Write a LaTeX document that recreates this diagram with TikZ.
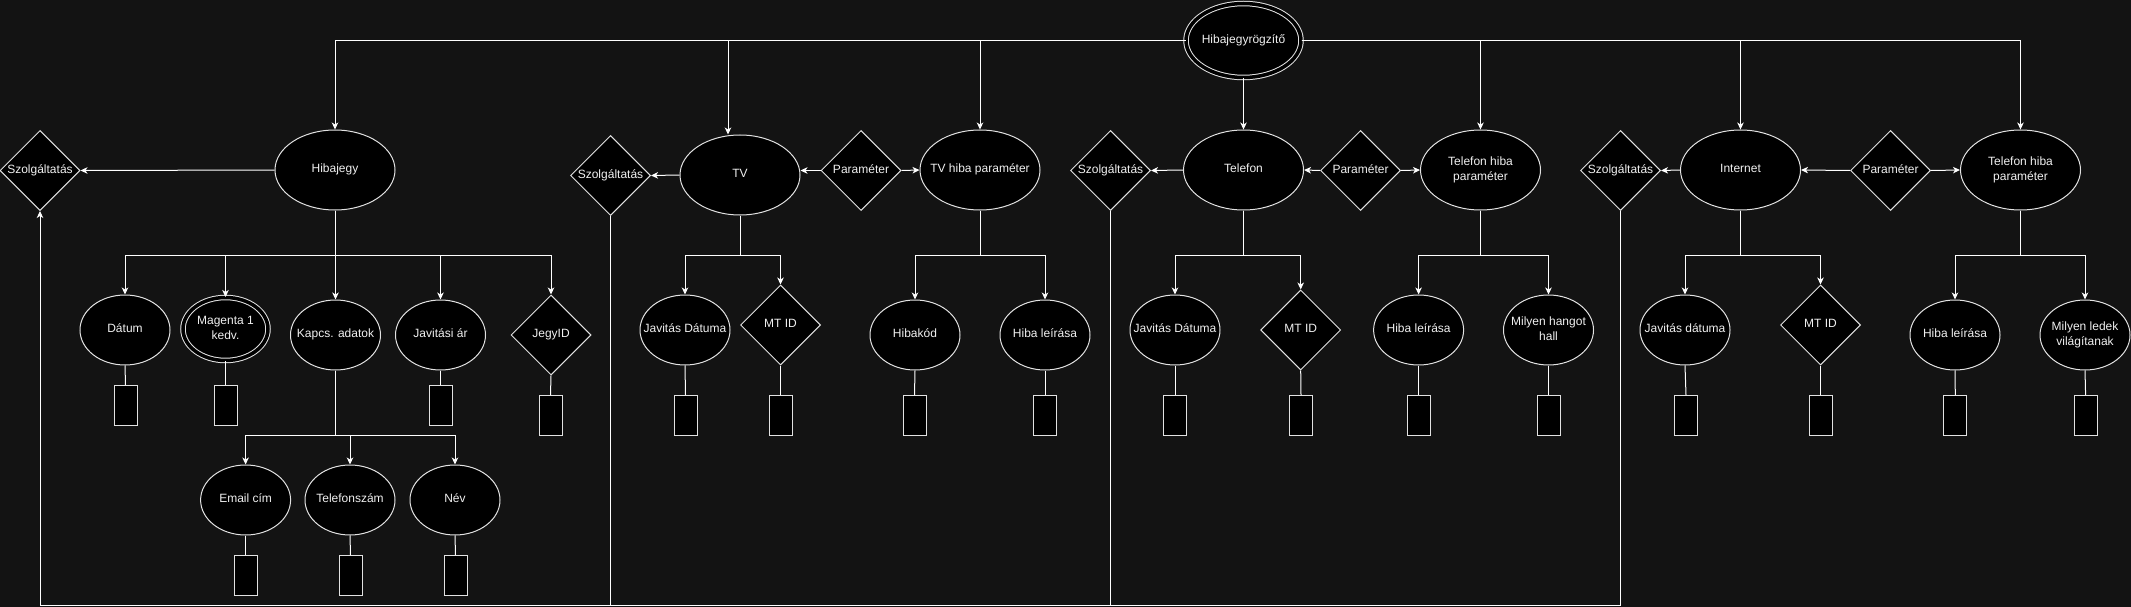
\documentclass[tikz,border=0pt]{standalone}
\usepackage{fontspec}
\setmainfont{Liberation Sans}
\usetikzlibrary{shapes.geometric,arrows.meta,calc}
\definecolor{bgc}{HTML}{131313}
\definecolor{strokec}{HTML}{E2E2E2}
\definecolor{linec}{HTML}{FFFFFF}
\definecolor{textc}{HTML}{F0F0F0}
\newcommand{\fsz}{\fontsize{12}{14.5}\selectfont}
\newcommand{\zw}[1]{\makebox[0pt]{\begin{tabular}{@{}c@{}}#1\end{tabular}}}
\tikzset{
  base/.style={draw=strokec, fill=black, text=textc, font=\fsz, inner sep=0pt, line width=1pt, align=center},
  ent/.style={base, ellipse, minimum width=120pt, minimum height=80pt},
  attr/.style={base, ellipse, minimum width=90pt, minimum height=70pt},
  rel/.style={base, diamond, aspect=1, minimum width=80pt, minimum height=80pt},
  dblell/.style={base, ellipse, double=black, double distance=3.5pt},
  valbox/.style={draw=strokec, fill=black, minimum width=23pt, minimum height=40pt, inner sep=0pt, line width=1pt},
  arr/.style={draw=linec, line width=1pt, -{Stealth[length=7pt,width=6.5pt,inset=2pt]}},
  ln/.style={draw=linec, line width=1pt}
}
\begin{document}
\begin{tikzpicture}[x=1pt,y=-1pt]
\path[use as bounding box, fill=bgc] (0,0) rectangle (2131,607);

% ---------- top row ----------
\node[dblell, minimum width=115pt, minimum height=74pt] (root) at (1243.5,40.5) {\zw{Hibajegyrögzítő}};
\node[ent] (hj)   at (335,170)   {\zw{Hibajegy}};
\node[rel] (sz1)  at (40,170.5)  {\zw{Szolgáltatás}};
\node[ent] (tv)   at (740,175)   {\zw{TV}};
\node[rel] (sz2)  at (610.5,175.5) {\zw{Szolgáltatás}};
\node[rel] (par1) at (861,170.5) {\zw{Paraméter}};
\node[ent] (tvh)  at (980,170)   {\zw{TV hiba paraméter}};
\node[rel] (sz3)  at (1110.5,170.5) {\zw{Szolgáltatás}};
\node[ent] (tel)  at (1243.5,170) {\zw{Telefon}};
\node[rel] (par2) at (1360.5,170.5) {\zw{Paraméter}};
\node[ent] (th1)  at (1480.5,170) {\zw{Telefon hiba\\paraméter}};
\node[rel] (sz4)  at (1620.5,170.5) {\zw{Szolgáltatás}};
\node[ent] (inet) at (1740.5,170) {\zw{Internet}};
\node[rel] (par3) at (1890.5,170.5) {\zw{Paraméter}};
\node[ent] (th2)  at (2020.5,170) {\zw{Telefon hiba\\paraméter}};

% ---------- attributes ----------
\node[attr] (datum) at (125,330) {\zw{Dátum}};
\node[dblell, minimum width=85pt, minimum height=63pt] (mag) at (225.5,329) {\zw{Magenta 1\\kedv.}};
\node[attr] (kapcs) at (335.5,335) {\zw{Kapcs. adatok}};
\node[attr] (javar) at (440.5,335) {\zw{Javitási ár}};
\node[rel]  (jegy)  at (551,335) {\zw{JegyID}};
\node[attr] (email) at (245.6,500) {\zw{Email cím}};
\node[attr] (telsz) at (350,500) {\zw{Telefonszám}};
\node[attr] (nev)   at (455,500) {\zw{Név}};

\node[attr] (tvjd)    at (685,330) {\zw{Javitás Dátuma}};
\node[rel]  (tvmt)    at (780.5,325) {\zw{MT ID}};
\node[attr] (hibakod) at (915,335) {\zw{Hibakód}};
\node[attr] (tvhl)    at (1045,335) {\zw{Hiba leírása}};
\node[attr] (teljd)   at (1175,330) {\zw{Javitás Dátuma}};
\node[rel]  (telmt)   at (1300.7,330) {\zw{MT ID}};
\node[attr] (telhl)   at (1418.6,330) {\zw{Hiba leírása}};
\node[attr] (telmh)   at (1548.5,330) {\zw{Milyen hangot\\hall}};
\node[attr] (injd)    at (1685,330) {\zw{Javitás dátuma}};
\node[rel]  (inmt)    at (1820.5,325) {\zw{MT ID}};
\node[attr] (inhl)    at (1955,335) {\zw{Hiba leírása}};
\node[attr] (inml)    at (2085,335) {\zw{Milyen ledek\\világítanak}};

% ---------- value boxes ----------
\node[valbox] (datumR) at (125.5,405.5) {};
\node[valbox] (magR)   at (225.5,405.5) {};
\node[valbox] (javarR) at (440.5,405.5) {};
\node[valbox] (jegyR)  at (550.5,415.7) {};
\node[valbox] (emailR) at (245.6,575.5) {};
\node[valbox] (telszR) at (350.5,575.5) {};
\node[valbox] (nevR)   at (455.5,575.5) {};
\node[valbox] (tvjdR)    at (685.5,415.7) {};
\node[valbox] (tvmtR)    at (780.5,415.7) {};
\node[valbox] (hibakodR) at (914.5,415.7) {};
\node[valbox] (tvhlR)    at (1045,415.7) {};
\node[valbox] (teljdR)   at (1175,415.7) {};
\node[valbox] (telmtR)   at (1301,415.7) {};
\node[valbox] (telhlR)   at (1418.6,415.7) {};
\node[valbox] (telmhR)   at (1548.5,415.7) {};
\node[valbox] (injdR)    at (1686,415.7) {};
\node[valbox] (inmtR)    at (1820.5,415.7) {};
\node[valbox] (inhlR)    at (1955.3,415.7) {};
\node[valbox] (inmlR)    at (2085.6,415.7) {};

% ---------- root connectors ----------
\draw[arr] (root.west) -| (hj.north);
\draw[arr] (root.west) -| ([xshift=-12pt]tv.north);
\draw[arr] (root.west) -| (tvh.north);
\draw[arr] (root.south) -- (tel.north);
\draw[arr] (root.east) -| (th1.north);
\draw[arr] (root.east) -| (inet.north);
\draw[arr] (root.east) -| (th2.north);

% ---------- entity -> Szolgáltatás ----------
\draw[arr] (hj.west) -- (sz1.east);
\draw[arr] (tv.west) -- (sz2.east);
\draw[arr] (tel.west) -- (sz3.east);
\draw[arr] (inet.west) -- (sz4.east);

% ---------- Paraméter ----------
\draw[arr] (par1.west) -- (par1.west -| tv.east);
\draw[arr] (par1.east) -- (tvh.west);
\draw[arr] (par2.west) -- (tel.east);
\draw[arr] (par2.east) -- (th1.west);
\draw[arr] (par3.west) -- (inet.east);
\draw[arr] (par3.east) -- (th2.west);

% ---------- child buses ----------
\coordinate (busA) at (0,255);
\coordinate (busB) at (0,435.3);
\foreach \c in {datum,mag,kapcs,javar,jegy}
  \draw[arr] (hj.south) -- (hj.south |- busA) -| (\c.north);
\foreach \c in {tvjd,tvmt}
  \draw[arr] (tv.south) -- (tv.south |- busA) -| (\c.north);
\foreach \c in {hibakod,tvhl}
  \draw[arr] (tvh.south) -- (tvh.south |- busA) -| (\c.north);
\foreach \c in {teljd,telmt}
  \draw[arr] (tel.south) -- (tel.south |- busA) -| (\c.north);
\foreach \c in {telhl,telmh}
  \draw[arr] (th1.south) -- (th1.south |- busA) -| (\c.north);
\foreach \c in {injd,inmt}
  \draw[arr] (inet.south) -- (inet.south |- busA) -| (\c.north);
\foreach \c in {inhl,inml}
  \draw[arr] (th2.south) -- (th2.south |- busA) -| (\c.north);
\foreach \c in {email,telsz,nev}
  \draw[arr] (kapcs.south) -- (kapcs.south |- busB) -| (\c.north);

% ---------- value stubs ----------
\foreach \c in {datum,mag,javar,jegy,email,telsz,nev,tvjd,tvmt,hibakod,tvhl,teljd,telmt,telhl,telmh,injd,inmt,inhl,inml}
  \draw[ln] (\c.south) -- (\c R.north);

% ---------- bottom loop ----------
\coordinate (bot) at (0,605.3);
\draw[arr] (sz4.south) -- (sz4.south |- bot) -- (sz1.south |- bot) -- (sz1.south);
\draw[ln] (sz2.south) -- (sz2.south |- bot);
\draw[ln] (sz3.south) -- (sz3.south |- bot);
\end{tikzpicture}
\end{document}
